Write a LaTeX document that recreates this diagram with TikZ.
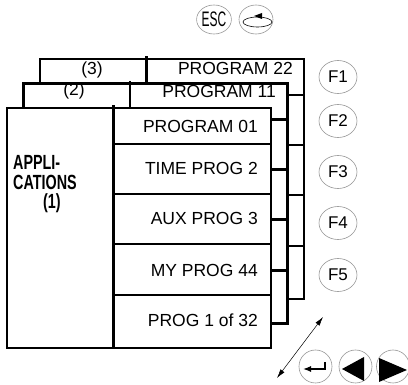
\documentclass[tikz,border=0pt]{standalone}
\usepackage{fontspec}
\setmainfont{Liberation Sans}
\newfontfamily\condfont[FakeStretch=0.7]{Liberation Sans}
\newfontfamily\escfont[FakeStretch=0.57]{Liberation Sans}
\usetikzlibrary{arrows.meta,shapes.geometric}
\definecolor{ink}{RGB}{0,0,0}
\definecolor{rim}{RGB}{150,150,150}
\tikzset{
  >={Latex[length=9pt,width=5pt]},
  frame/.style={draw=ink,fill=white,line width=2.6pt},
  rule/.style={draw=ink,line width=2.6pt},
  prog/.style={anchor=base east,inner sep=0pt,font=\fontsize{17.5}{20}\selectfont},
  tab/.style={inner sep=0pt,font=\fontsize{17.5}{20}\selectfont},
  apps/.style={anchor=base west,inner sep=0pt,font=\condfont\bfseries\fontsize{20.5}{24}\selectfont},
  btn/.style={ellipse,draw=rim,line width=0.6pt,inner sep=0pt},
  fkey/.style={btn,minimum width=38pt,minimum height=33pt,font=\fontsize{17}{19}\selectfont},
  topkey/.style={btn,minimum width=32pt,minimum height=29pt},
  navkey/.style={btn,minimum width=33pt,minimum height=33pt},
}
% one page of the program stack: #1 left, #2 top
\newcommand{\progpanel}[2]{%
  \draw[frame] (#1,#2) rectangle (#1+264,#2+240);
  \draw[rule] (#1+106.5,#2-2.5) -- (#1+106.5,#2+240);
  \foreach \r in {36,86,136,187}
    \draw[rule] (#1+106.5,#2+\r) -- (#1+264,#2+\r);
}

\begin{document}
\begin{tikzpicture}[x=1pt,y=-1pt]
  \useasboundingbox (0,0) rectangle (408,385);
  % pages, back to front
  \progpanel{40}{59}
  \node[tab] (p3-tab) at (92,70) {(3)};
  \node[prog] (p3-top) at (293,75) {PROGRAM 22};
  \progpanel{23.5}{83.5}
  \node[tab] (p2-tab) at (74,90.5) {(2)};
  \node[prog] (p2-top) at (276,98) {PROGRAM 11};
  \progpanel{7}{108}
  \node[apps] (app-a) at (13,170) {APPLI-};
  \node[apps] (app-b) at (13,190) {CATIONS};
  \node[apps] (app-c) at (43,209) {(1)};
  \foreach \t/\y [count=\k] in {PROGRAM 01/133,TIME PROG 2/175,AUX PROG 3/225,MY PROG 44/277,PROG 1 of 32/327}
    \node[prog] (row\k) at (258,\y) {\t};
  % soft keys
  \foreach \y [count=\k] in {77,121,172,223,275}
    \node[fkey] (f\k) at (338,\y) {F\k};
  \node[topkey,font=\escfont\fontsize{21}{24}\selectfont] (esc) at (214,19.5) {ESC};
  \node[topkey,minimum width=34pt] (turn) at (256,19.5) {};
  \draw[ink,line width=0.6pt] (257.5,22) ellipse [x radius=14.5,y radius=5];
  \fill[ink] (254,16) -- (262,13) -- (262,19) -- cycle;
  \node[navkey] (enter) at (315.5,366.5) {};
  \draw[ink,line width=1.3pt,-{Latex[length=8pt,width=6pt]}] (325,362) |- (303,369);
  \node[navkey] (prev) at (355.5,366.5) {};
  \fill[ink] (342,369) -- (364,357) -- (364,381) -- cycle;
  \node[navkey] (next) at (393,366.5) {};
  \fill[ink] (379,358) -- (407,370) -- (379,382) -- cycle;
  % scroll
  \coordinate (swipe-lo) at (277,378);
  \coordinate (swipe-hi) at (323,317);
  \draw[<->,ink,line width=0.5pt] (swipe-lo) -- (swipe-hi);
\end{tikzpicture}
\end{document}
